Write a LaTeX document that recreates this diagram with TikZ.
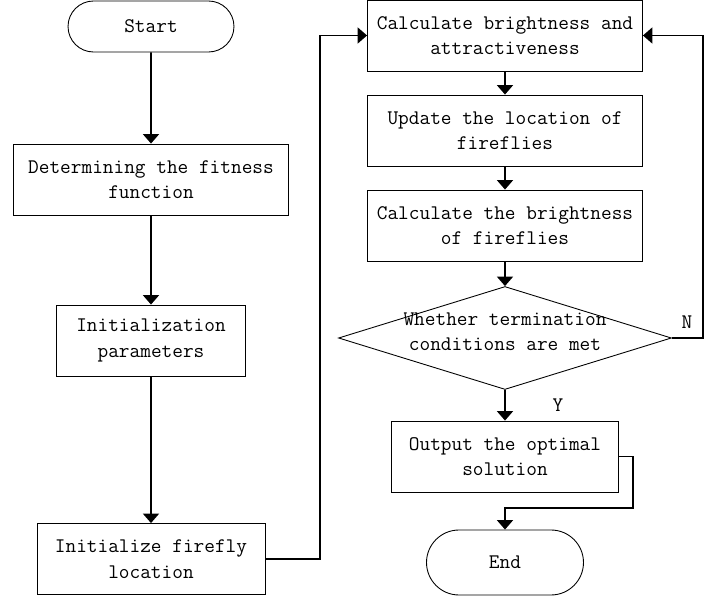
\documentclass[tikz,border=0pt]{standalone}
\usepackage{tikz}
\usetikzlibrary{shapes.geometric, shapes.misc, arrows.meta}
\tikzset{
>={Triangle[length=1.9mm, width=3.2mm]}, % filled, wide arrow heads
every node/.style={font=\ttfamily\fontsize{11.8}{14.6}\selectfont, align=center}, % text of every node
process/.style={draw, line width=0.5pt, rectangle, minimum height=1.42cm, inner sep=0pt}, % plain steps
terminal/.style={draw, line width=0.5pt, rounded rectangle, inner sep=0pt}, % start and end
decision/.style={draw, line width=0.5pt, diamond, aspect=3.23, minimum width=6.66cm, minimum height=2.06cm, inner sep=0pt}, % the test
flow/.style={->, line width=1.1pt}, % connectors
}

\begin{document}
\begin{tikzpicture}[x=0.02cm, y=-0.02cm]
\useasboundingbox (0,0) rectangle (725,598);
\def\lx{151}
\def\rx{505}

% left column
\node[terminal, minimum width=3.32cm, minimum height=1.02cm] (start) at (\lx, 26.5) {Start};
\node[process, minimum width=5.5cm] (fit) at (\lx, 179.5) {Determining the fitness\\function};
\node[process, minimum width=3.78cm] (init) at (\lx, 340.5) {Initialization\\parameters};
\node[process, minimum width=4.56cm] (loc) at (\lx, 559) {Initialize firefly\\location};

% right column
\node[process, minimum width=5.5cm] (calc) at (\rx, 35.5) {Calculate brightness and\\attractiveness};
\node[process, minimum width=5.5cm] (upd) at (\rx, 130.5) {Update the location of\\fireflies};
\node[process, minimum width=5.5cm] (bri) at (\rx, 225.5) {Calculate the brightness\\of fireflies};
\node[decision] (dec) at (\rx, 338) {\makebox[0pt]{\smash{\begin{tabular}{c}Whether termination\\conditions are met\end{tabular}}}};
\node[process, minimum width=4.54cm] (out) at (\rx, 456.5) {Output the optimal\\solution};
\node[terminal, minimum width=3.14cm, minimum height=1.3cm] (end) at (\rx, 562.5) {End};

% labels
\node (no) at (687, 322) {N};
\node (yes) at (558, 405) {Y};

% bends
\coordinate (lp) at (320, 35.5);
\coordinate (rp) at (703, 35.5);
\coordinate (bp) at (633, 508);

% edges
\draw[flow] (start) -- (fit); % start to fitness
\draw[flow] (fit) -- (init); % fitness to parameters
\draw[flow] (init) -- (loc); % parameters to location
\draw[flow] (loc.east) -| (lp) -- (calc.west); % location to brightness
\draw[flow] (calc) -- (upd); % brightness to update
\draw[flow] (upd) -- (bri); % update to brightness
\draw[flow] (bri) -- (dec); % brightness to test
\draw[flow] (dec.east) -| (rp) -- (calc.east); % N: back up
\draw[flow] (dec) -- (out); % Y: to output
\draw[flow] (out.east) -| (bp) -| (end.north); % output to end
\end{tikzpicture}
\end{document}
